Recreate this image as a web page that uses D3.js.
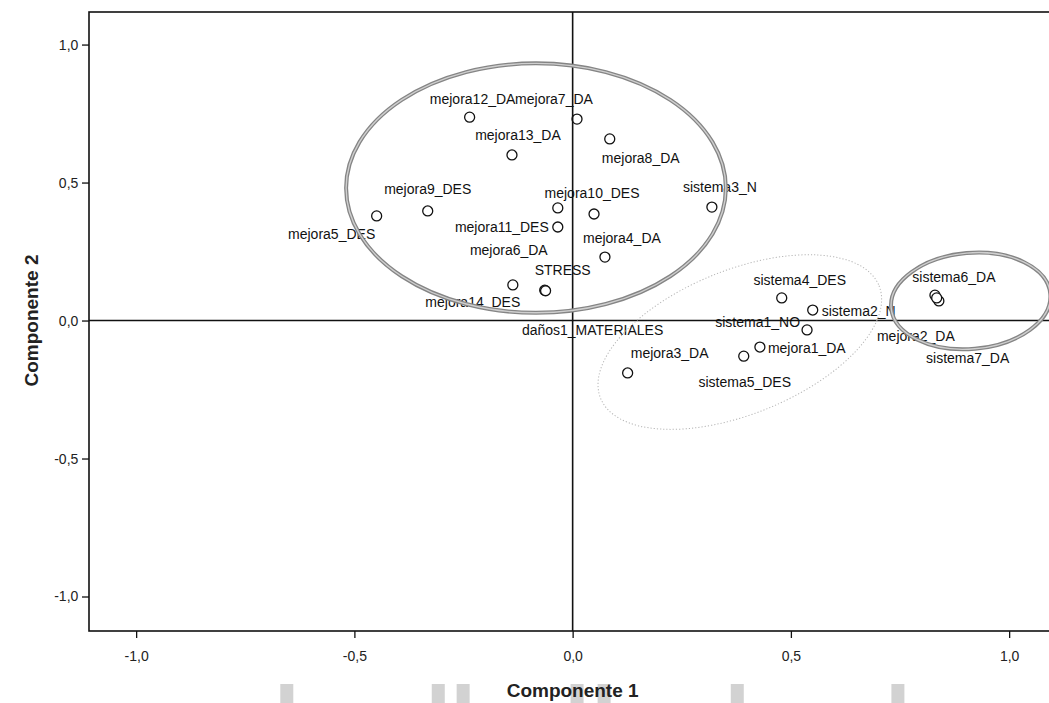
<!DOCTYPE html>
<html>
<head>
<meta charset="utf-8">
<script src="https://cdn.jsdelivr.net/npm/d3@7"></script>
<style>
  body { margin: 0; background: #fff; }
  svg { display: block; font-family: "Liberation Sans", Arial, sans-serif; }
</style>
</head>
<body>
<div id="chart"></div>
<script>
// Component loadings
const labels = [
  "mejora12_DA", "mejora7_DA", "mejora13_DA", "mejora8_DA", "mejora9_DES",
  "mejora5_DES", "mejora6_DA", "mejora11_DES", "mejora10_DES", "sistema3_N",
  "mejora4_DA", "STRESS", "mejora14_DES", "daños1_MATERIALES",
  "sistema4_DES", "sistema2_N", "sistema1_NO", "mejora1_DA", "sistema5_DES",
  "mejora3_DA", "sistema6_DA", "mejora2_DA", "sistema7_DA"
];
const comp1 = [
  -0.236, 0.010, -0.139, 0.085, -0.332,
  -0.449, -0.034, -0.034, 0.049, 0.319,
  0.074, -0.064, -0.137, -0.062,
  0.479, 0.550, 0.537, 0.429, 0.392,
  0.126, 0.830, 0.839, 0.834
];
const comp2 = [
  0.737, 0.730, 0.600, 0.658, 0.397,
  0.379, 0.408, 0.339, 0.386, 0.411,
  0.230, 0.110, 0.129, 0.108,
  0.082, 0.038, -0.034, -0.096, -0.129,
  -0.190, 0.092, 0.071, 0.082
];
const ticks = [-1.0, -0.5, 0.0, 0.5, 1.0];

// label placement relative to each marker (pixels), as the plot tool placed them
const labelOffset = [
  [3, -13, "middle"], [-23, -15, "middle"], [6, -15, "middle"], [31, 24, "middle"], [0, -17, "middle"],
  [-45, 23, "middle"], [-49, 47, "middle"], [-9, 5, "end"], [-2, -16, "middle"], [8, -15, "middle"],
  [17, -14, "middle"], [18, -15, "middle"], [-40, 22, "middle"], [47, 44, "middle"],
  [18, -13, "middle"], [9, 6, "start"], [-7, -3, "end"], [8, 6, "start"], [1, 31, "middle"],
  [42, -15, "middle"], [19, -13, "middle"], [-23, 40, "middle"], [31, 65, "middle"]
];

// hand-drawn group outlines (data units)
const groups = [
  { cx: -0.084, cy: 0.480, rx: 0.435, ry: 0.452, angle: 0, style: "solid" },
  { cx: 0.383, cy: -0.078, rx: 0.344, ry: 0.261, angle: -22, style: "dotted" },
  { cx: 0.912, cy: 0.071, rx: 0.183, ry: 0.174, angle: -5, style: "solid" }
];

// scanner smudges along the bottom edge (x in data units)
const smudges = [-0.656, -0.309, -0.252, 0.009, 0.071, 0.376, 0.744];

const width = 1049;
const height = 703;
const margin = { left: 89, top: 12, bottom: 72 };

const svg = d3.select("#chart")
  .append("svg")
  .attr("width", width)
  .attr("height", height);

const x = d3.scaleLinear()
  .domain([-1.108, 1.13])
  .range([margin.left, margin.left + 2.238 * 436.5]);

const y = d3.scaleLinear()
  .domain([-1.125, 1.118])
  .range([height - margin.bottom, margin.top]);

const fmt = (d) => d3.format(".1f")(d).replace(".", ",").replace("−", "-");

// smudges
svg.selectAll(".smudge")
  .data(smudges)
  .enter()
  .append("rect")
  .attr("class", "smudge")
  .attr("x", (d) => x(d) - 6)
  .attr("y", 684)
  .attr("width", 13)
  .attr("height", 19)
  .attr("fill", "#d2d2d2");

// frame
svg.append("rect")
  .attr("x", x.range()[0])
  .attr("y", y.range()[1])
  .attr("width", x.range()[1] - x.range()[0])
  .attr("height", y.range()[0] - y.range()[1])
  .attr("fill", "none")
  .attr("stroke", "#111")
  .attr("stroke-width", 1.6);

// axes
const xAxis = d3.axisBottom(x).tickValues(ticks).tickSize(7).tickFormat(fmt);
const yAxis = d3.axisLeft(y).tickValues(ticks).tickSize(7).tickFormat(fmt);

const gx = svg.append("g")
  .attr("transform", `translate(0, ${y.range()[0]})`)
  .call(xAxis);
const gy = svg.append("g")
  .attr("transform", `translate(${x.range()[0]}, 0)`)
  .call(yAxis);

[gx, gy].forEach((g) => {
  g.attr("font-size", null).attr("font-family", null);
  g.select(".domain").remove();
  g.selectAll("line").attr("stroke", "#111").attr("stroke-width", 1.3);
  g.selectAll("text")
    .attr("fill", "#222")
    .style("font-size", "14px");
});
gx.selectAll("text").attr("dy", "1.45em");
gy.selectAll("text").attr("dx", "-0.05em");

// points
const data = labels.map((name, i) => ({
  name: name,
  c1: comp1[i],
  c2: comp2[i],
  off: labelOffset[i]
}));

svg.selectAll(".dot")
  .data(data)
  .enter()
  .append("circle")
  .attr("class", "dot")
  .attr("cx", (d) => x(d.c1))
  .attr("cy", (d) => y(d.c2))
  .attr("r", 5)
  .attr("fill", "#fff")
  .attr("stroke", "#111")
  .attr("stroke-width", 1.3);

svg.selectAll(".lbl")
  .data(data)
  .enter()
  .append("text")
  .attr("class", "lbl")
  .attr("x", (d) => x(d.c1) + d.off[0])
  .attr("y", (d) => y(d.c2) + d.off[1])
  .attr("text-anchor", (d) => d.off[2])
  .style("font-size", "14px")
  .attr("fill", "#111")
  .text((d) => d.name);

// reference lines through the origin
svg.append("line")
  .attr("x1", x.range()[0]).attr("x2", width)
  .attr("y1", y(0)).attr("y2", y(0))
  .attr("stroke", "#111").attr("stroke-width", 1.6);
svg.append("line")
  .attr("x1", x(0)).attr("x2", x(0))
  .attr("y1", y.range()[1]).attr("y2", y.range()[0])
  .attr("stroke", "#111").attr("stroke-width", 1.6);

// group outlines
groups.forEach((g) => {
  const cx = x(g.cx);
  const cy = y(g.cy);
  const rx = x(g.cx + g.rx) - cx;
  const ry = cy - y(g.cy + g.ry);
  if (g.style === "solid") {
    svg.append("ellipse")
      .attr("cx", cx).attr("cy", cy).attr("rx", rx).attr("ry", ry)
      .attr("transform", `rotate(${g.angle}, ${cx}, ${cy})`)
      .attr("fill", "none")
      .attr("stroke", "#858585")
      .attr("stroke-width", 4);
    svg.append("ellipse")
      .attr("cx", cx).attr("cy", cy).attr("rx", rx).attr("ry", ry)
      .attr("transform", `rotate(${g.angle}, ${cx}, ${cy})`)
      .attr("fill", "none")
      .attr("stroke", "#cfcfcf")
      .attr("stroke-width", 1.4);
  } else {
    svg.append("ellipse")
      .attr("cx", cx).attr("cy", cy).attr("rx", rx).attr("ry", ry)
      .attr("transform", `rotate(${g.angle}, ${cx}, ${cy})`)
      .attr("fill", "none")
      .attr("stroke", "#b5b5b5")
      .attr("stroke-width", 1)
      .attr("stroke-dasharray", "1.2,2");
  }
});

// axis titles
svg.append("text")
  .attr("x", x(0))
  .attr("y", 697)
  .attr("text-anchor", "middle")
  .style("font-size", "19px")
  .style("font-weight", "bold")
  .attr("fill", "#222")
  .text("Componente 1");

svg.append("text")
  .attr("transform", `translate(38, ${y(0)}) rotate(-90)`)
  .attr("text-anchor", "middle")
  .style("font-size", "19px")
  .style("font-weight", "bold")
  .attr("fill", "#222")
  .text("Componente 2");
</script>
</body>
</html>
